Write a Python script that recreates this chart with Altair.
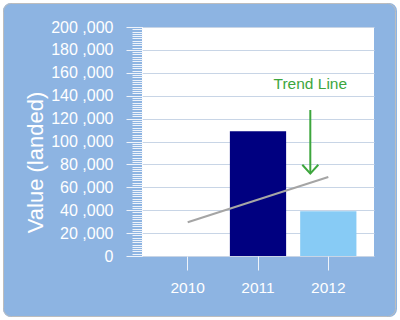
import altair as alt
import pandas as pd

# ---- data ----
years = ["2010", "2011", "2012"]
values = [0, 109000, 39000]
bar_colors = ["#87CBF5", "#000080", "#87CBF5"]

trend_years = ["2010", "2012"]
trend_values = [29500, 69000]

major_ticks = list(range(0, 200001, 20000))
minor_ticks = list(range(0, 200001, 2000))

annotation_text = ["Trend Line"]
annotation_year = ["2012"]
annotation_label_y = [150000]
arrow_start = [127500]
arrow_end = [72000]

# ---- style ----
W, H = 232, 229
BG = "#8DB4E2"
GREEN = "#3DA63D"
FONT = "Liberation Sans"
LIGHT = "#EEF3FA"

yscale = alt.Scale(domain=[0, 200000], nice=False, zero=True)
xscale = alt.Scale(domain=years, paddingInner=0.2, paddingOuter=0.25)

one = pd.DataFrame({"k": [0]})

yaxis = alt.Axis(
    orient="left",
    values=major_ticks,
    labelExpr="replace(format(datum.value, ','), ',', ' ,')",
    tickSize=16,
    tickColor=LIGHT,
    labelColor="white",
    labelFont=FONT,
    labelFontSize=16,
    labelPadding=13,
    labelOverlap=False,
    domain=False,
    grid=True,
    gridColor="#C8D5E6",
    gridOpacity=1,
    title="Value (landed)",
    titleFont=FONT,
    titleFontSize=22,
    titleFontWeight="normal",
    titleColor="white",
    titleAngle=270,
    titleX=-107,
    titleY=135,
    titleAlign="center",
    titleBaseline="middle",
)

minor_axis = alt.Axis(
    orient="left",
    values=minor_ticks,
    tickSize=10,
    tickColor=LIGHT,
    labels=False,
    domain=False,
    grid=False,
    title=None,
)

xaxis = alt.Axis(
    orient="bottom",
    title=None,
    labelAngle=0,
    labelColor="white",
    labelFont=FONT,
    labelFontSize=15.5,
    labelPadding=10,
    tickSize=14,
    tickColor=LIGHT,
    domain=False,
    grid=False,
)

bars = alt.Chart(pd.DataFrame({"year": years, "value": values})).mark_bar().encode(
    x=alt.X("year:N", scale=xscale, axis=xaxis),
    y=alt.Y("value:Q", scale=yscale, axis=yaxis),
    color=alt.Color("year:N", scale=alt.Scale(domain=years, range=bar_colors), legend=None),
)

minor = alt.Chart(pd.DataFrame({"v": minor_ticks})).mark_point(opacity=0).encode(
    y=alt.Y("v:Q", scale=yscale, axis=minor_axis),
)

trend = alt.Chart(pd.DataFrame({"year": trend_years, "trend": trend_values})).mark_line(
    color="#A5A5A5", strokeWidth=2
).encode(
    x=alt.X("year:N", scale=xscale, axis=None),
    y=alt.Y("trend:Q", scale=yscale, axis=None),
)

ann_df = pd.DataFrame({
    "year": annotation_year,
    "label": annotation_text,
    "ly": annotation_label_y,
    "a0": arrow_start,
    "a1": arrow_end,
})

arrow = alt.Chart(ann_df).mark_rule(color=GREEN, strokeWidth=2, xOffset=-18).encode(
    x=alt.X("year:N", scale=xscale, axis=None),
    y=alt.Y("a0:Q", scale=yscale, axis=None),
    y2="a1:Q",
)

head = alt.Chart(ann_df).mark_point(
    shape="M-1,-1.1L0,0L1,-1.1", size=256, filled=False, color=GREEN,
    strokeWidth=2, opacity=1, xOffset=-18
).encode(
    x=alt.X("year:N", scale=xscale, axis=None),
    y=alt.Y("a1:Q", scale=yscale, axis=None),
)

label = alt.Chart(ann_df).mark_text(
    color=GREEN, font=FONT, fontSize=15.5, xOffset=-18, baseline="middle", align="center"
).encode(
    x=alt.X("year:N", scale=xscale, axis=None),
    y=alt.Y("ly:Q", scale=yscale, axis=None),
    text="label:N",
)

# white outer margin with rounded corners, and a thin grey frame line
outer = alt.Chart(one).mark_rect(
    cornerRadius=18, fillOpacity=0, stroke="white", strokeWidth=20
).encode(x=alt.value(-149), x2=alt.value(265), y=alt.value(-34), y2=alt.value(300))

border = alt.Chart(one).mark_rect(
    cornerRadius=8, fillOpacity=0, stroke="#BDBDBD", strokeWidth=1
).encode(x=alt.value(-138.5), x2=alt.value(253.5), y=alt.value(-23.5), y2=alt.value(289.5))

chart = alt.layer(bars, minor, trend, arrow, head, label, outer, border).resolve_axis(
    x="independent", y="independent"
).properties(
    width=W,
    height=H,
    padding={"left": 142, "top": 27, "right": 26, "bottom": 64},
    autosize=alt.AutoSizeParams(type="none"),
    background=BG,
).configure_view(fill="white", strokeWidth=0)

chart.save("out.html", embed_options={"renderer": "svg", "actions": False})
